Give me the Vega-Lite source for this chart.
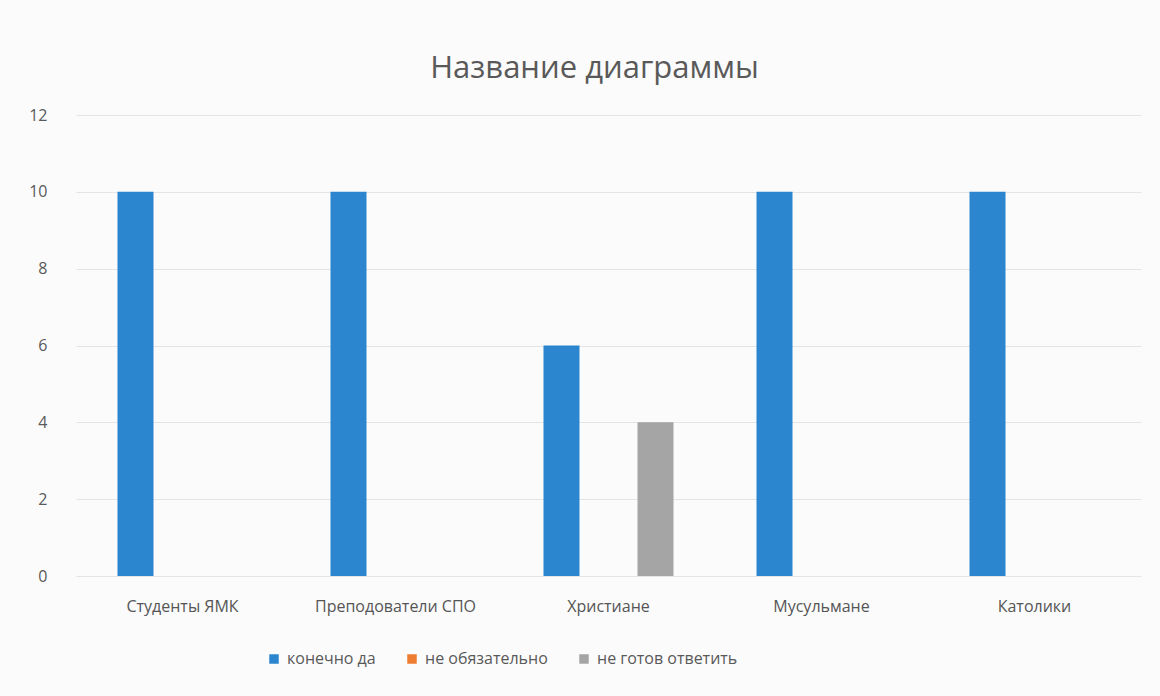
{
  "$schema": "https://vega.github.io/schema/vega-lite/v6.json",
  "width": 1065,
  "height": 461,
  "autosize": "none",
  "padding": {"left": 76, "top": 115, "right": 19, "bottom": 120},
  "background": "#fbfbfb",
  "title": {
    "text": "Название диаграммы",
    "fontSize": 31,
    "font": "Open Sans",
    "fontWeight": "normal",
    "color": "#595959",
    "anchor": "middle",
    "dx": -14,
    "offset": 22
  },
  "data": {
    "values": [
      {"category": "Студенты ЯМК", "series": "конечно да", "value": 10},
      {"category": "Студенты ЯМК", "series": "не обязательно", "value": 0},
      {"category": "Студенты ЯМК", "series": "не готов ответить", "value": 0},
      {"category": "Преподователи СПО", "series": "конечно да", "value": 10},
      {"category": "Преподователи СПО", "series": "не обязательно", "value": 0},
      {"category": "Преподователи СПО", "series": "не готов ответить", "value": 0},
      {"category": "Христиане", "series": "конечно да", "value": 6},
      {"category": "Христиане", "series": "не обязательно", "value": 0},
      {"category": "Христиане", "series": "не готов ответить", "value": 4},
      {"category": "Мусульмане", "series": "конечно да", "value": 10},
      {"category": "Мусульмане", "series": "не обязательно", "value": 0},
      {"category": "Мусульмане", "series": "не готов ответить", "value": 0},
      {"category": "Католики", "series": "конечно да", "value": 10},
      {"category": "Католики", "series": "не обязательно", "value": 0},
      {"category": "Католики", "series": "не готов ответить", "value": 0}
    ]
  },
  "mark": {"type": "bar"},
  "encoding": {
    "x": {
      "field": "category",
      "type": "nominal",
      "sort": null,
      "scale": {"paddingInner": 0.338, "paddingOuter": 0.169},
      "axis": {
        "title": null,
        "labelAngle": 0,
        "domain": false,
        "ticks": false,
        "labelPadding": 22,
        "labelFontSize": 16,
        "labelFont": "Open Sans",
        "labelColor": "#555555"
      }
    },
    "xOffset": {
      "field": "series",
      "type": "nominal",
      "sort": ["конечно да", "не обязательно", "не готов ответить"],
      "scale": {"paddingInner": 0.234, "paddingOuter": 0.117}
    },
    "y": {
      "field": "value",
      "type": "quantitative",
      "scale": {"domain": [0, 12], "nice": false},
      "axis": {
        "title": null,
        "values": [0, 2, 4, 6, 8, 10, 12],
        "domain": false,
        "ticks": false,
        "labelPadding": 29,
        "labelFontSize": 16,
        "labelFont": "Open Sans",
        "labelColor": "#595959",
        "gridColor": "#e4e4e4",
        "gridWidth": 1
      }
    },
    "color": {
      "field": "series",
      "type": "nominal",
      "sort": ["конечно да", "не обязательно", "не готов ответить"],
      "scale": {
        "domain": ["конечно да", "не обязательно", "не готов ответить"],
        "range": ["#2B86CF", "#ED7D31", "#A5A5A5"]
      },
      "legend": {
        "title": null,
        "orient": "none",
        "direction": "horizontal",
        "legendX": 190,
        "legendY": 536,
        "symbolType": "square",
        "symbolSize": 90,
        "symbolStrokeWidth": 0,
        "labelFontSize": 16,
        "labelFont": "Open Sans",
        "labelColor": "#595959",
        "columnPadding": 28,
        "labelOffset": 5
      }
    }
  },
  "config": {
    "view": {"stroke": null}
  }
}
